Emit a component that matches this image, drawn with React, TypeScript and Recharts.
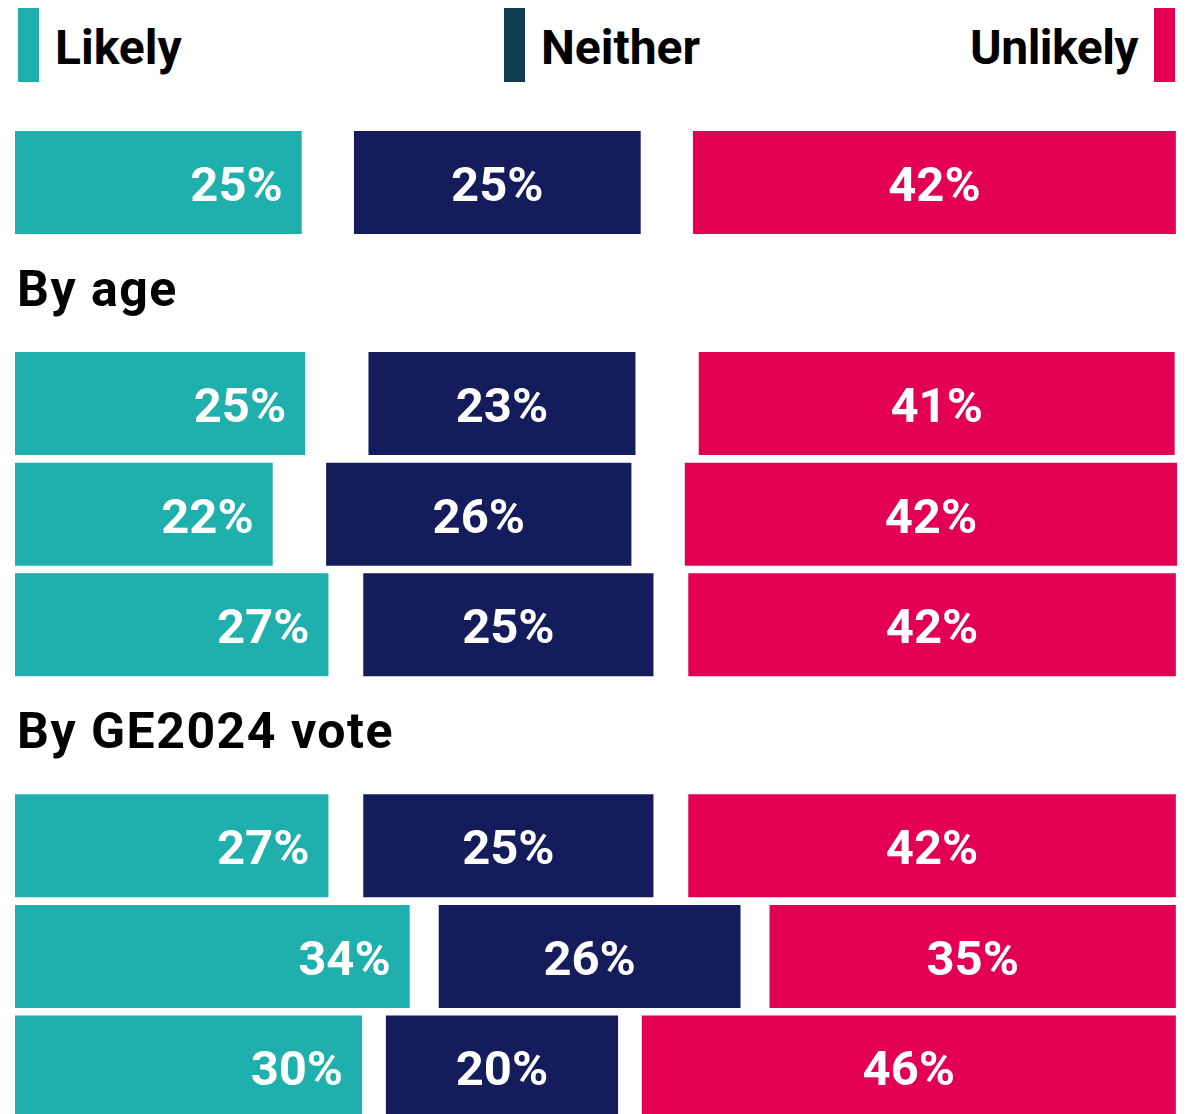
import React from "react";
import { BarChart, Bar, XAxis, YAxis, LabelList } from "recharts";

// Rows top to bottom; heading rows carry no values
const rowNames = ["All", "By age", "Age A", "Age B", "Age C", "By GE2024 vote", "Vote A", "Vote B", "Vote C"];
const headingRows = ["By age", "By GE2024 vote"];

// Shares in %
const likely = [24.7, null, 25.0, 22.2, 27.0, null, 27.0, 34.0, 29.9];
const neither = [24.7, null, 23.0, 26.3, 25.0, null, 25.0, 26.0, 20.0];
const unlikely = [41.6, null, 41.0, 42.4, 42.0, null, 42.0, 35.0, 46.0];
// "Don't know" share, drawn as the two white gaps between the bars
const dontKnow = [9.0, null, 10.9, 9.2, 6.0, null, 6.0, 5.0, 4.1];

const legendItems = ["Likely", "Neither", "Unlikely"];

const TEAL = "#1FB0AE";
const NAVY = "#141C5B";
const CRIMSON = "#E30052";
const LEGEND_NEITHER = "#113B4E";
const FONT = "Roboto, 'Noto Sans', sans-serif";

const data = rowNames.map((name, i) => ({
  name,
  likely: likely[i],
  gapA: dontKnow[i] == null ? null : dontKnow[i] / 2,
  neither: neither[i],
  gapB: dontKnow[i] == null ? null : dontKnow[i] / 2,
  unlikely: unlikely[i],
}));

const fmt = (v: any) => `${Math.round(Number(v))}%`;

function EndLabel(props: any) {
  const { x, y, width, height, value } = props;
  if (value == null) return null;
  return (
    <text
      x={x + width - 19}
      y={y + height / 2 + 2}
      textAnchor="end"
      dominantBaseline="central"
      fill="#fff"
      fontFamily={FONT}
      fontWeight={700}
      fontSize={49}
    >
      {fmt(value)}
    </text>
  );
}

function MidLabel(props: any) {
  const { x, y, width, height, value } = props;
  if (value == null) return null;
  return (
    <text
      x={x + width / 2}
      y={y + height / 2 + 2}
      textAnchor="middle"
      dominantBaseline="central"
      fill="#fff"
      fontFamily={FONT}
      fontWeight={700}
      fontSize={49}
    >
      {fmt(value)}
    </text>
  );
}

// section headings sit in their own (empty) category rows
function HeadingTick(props: any) {
  const { y, payload } = props;
  if (!payload || !headingRows.includes(payload.value)) return <g />;
  return (
    <text
      x={17}
      y={y - 4}
      textAnchor="start"
      dominantBaseline="central"
      fill="#000"
      fontFamily={FONT}
      fontWeight={700}
      fontSize={50}
      letterSpacing={1.5}
    >
      {payload.value}
    </text>
  );
}

const swatch = (color: string, left: number) => (
  <div style={{ position: "absolute", left, top: 8, width: 21, height: 74, background: color }} />
);

const legendText: React.CSSProperties = {
  position: "absolute",
  top: 18,
  fontFamily: FONT,
  fontWeight: 700,
  fontSize: 48,
  lineHeight: "60px",
  color: "#000",
  whiteSpace: "nowrap",
};

export default function App() {
  return (
    <div
      style={{
        position: "absolute",
        left: 0,
        top: 0,
        width: 1191,
        height: 1114,
        overflow: "hidden",
        background: "#fff",
        fontFamily: FONT,
      }}
    >
      {swatch(TEAL, 18)}
      <div style={{ ...legendText, left: 55 }}>{legendItems[0]}</div>
      {swatch(LEGEND_NEITHER, 504)}
      <div style={{ ...legendText, left: 541 }}>{legendItems[1]}</div>
      <div style={{ ...legendText, right: 1191 - 1138, textAlign: "right", letterSpacing: -0.5 }}>
        {legendItems[2]}
      </div>
      {swatch(CRIMSON, 1154)}

      <div style={{ position: "absolute", left: 0, top: 127 }}>
        <BarChart
          width={1191}
          height={995}
          layout="vertical"
          data={data}
          margin={{ top: 0, right: 14, bottom: 0, left: 0 }}
          barCategoryGap={4}
        >
          <XAxis type="number" domain={[0, 100]} hide />
          <YAxis
            type="category"
            dataKey="name"
            width={15}
            axisLine={false}
            tickLine={false}
            interval={0}
            tick={<HeadingTick />}
          />
          <Bar dataKey="likely" stackId="s" fill={TEAL} isAnimationActive={false}>
            <LabelList dataKey="likely" content={<EndLabel />} />
          </Bar>
          <Bar dataKey="gapA" stackId="s" fill="transparent" isAnimationActive={false} />
          <Bar dataKey="neither" stackId="s" fill={NAVY} isAnimationActive={false}>
            <LabelList dataKey="neither" content={<MidLabel />} />
          </Bar>
          <Bar dataKey="gapB" stackId="s" fill="transparent" isAnimationActive={false} />
          <Bar dataKey="unlikely" stackId="s" fill={CRIMSON} isAnimationActive={false}>
            <LabelList dataKey="unlikely" content={<MidLabel />} />
          </Bar>
        </BarChart>
      </div>
    </div>
  );
}
